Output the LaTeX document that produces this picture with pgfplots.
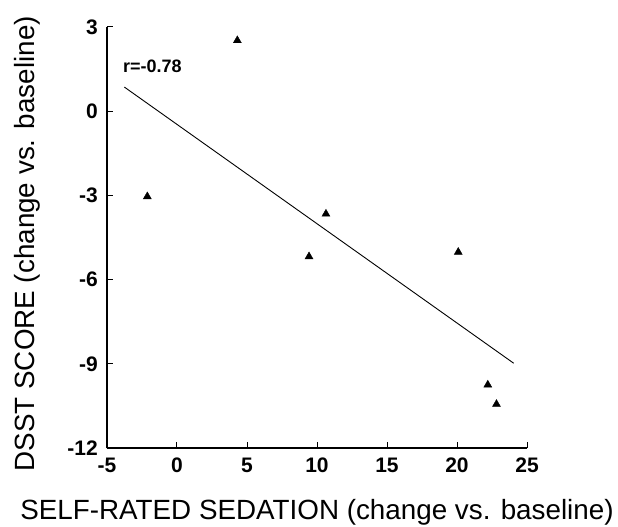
\documentclass[border=0pt]{standalone}
\usepackage{pgfplots}
\pgfplotsset{compat=1.18}
\usepackage{fontspec}
\setmainfont{Liberation Sans}
\begin{document}
\begin{tikzpicture}
\begin{axis}[
  scale only axis=true,
  width=420pt, height=421pt,
  xmin=-5, xmax=25, ymin=-12, ymax=3,
  axis x line=bottom, axis y line=left,
  axis line style={-, line width=1.2pt},
  xtick={-5,0,5,10,15,20,25},
  ytick={-12,-9,-6,-3,0,3},
  tick align=inside,
  major tick length=6pt,
  tick style={line width=1pt, black},
  /pgf/number format/assume math mode=true,
  ticklabel style={font=\fontsize{21}{21}\selectfont\bfseries},
  xticklabel style={anchor=north, inner sep=0pt, yshift=-10pt},
  yticklabel style={anchor=east, inner sep=0pt, xshift=-9pt},
  xlabel={SELF-RATED SEDATION (change vs. baseline)},
  ylabel={DSST SCORE (change vs. baseline)},
  label style={font=\fontsize{27.8}{27.8}\selectfont},
  xlabel style={at={(axis description cs:0.5,-0.169)}, anchor=base},
  ylabel style={at={(axis description cs:-0.19,0.485)}, anchor=center, rotate=0},
  clip=false,
]
\addplot[only marks, mark=triangle*, mark size=4.6pt, black] coordinates {
  (-2.12,-3.04) (4.31,2.52) (9.43,-5.18) (10.64,-3.66) (20.09,-5.02) (22.2,-9.75) (22.82,-10.44)
};
\addplot[black, line width=0.9pt] coordinates {(-3.76,0.86) (24.05,-8.98)};
\node[anchor=base west, inner sep=0pt, font=\fontsize{18}{18}\selectfont\bfseries] at (axis cs:-3.86,1.37) {r=-0.78};
\end{axis}
\pgfresetboundingbox
\path[use as bounding box] (-107pt,-79pt) rectangle (511pt,448pt);
\end{tikzpicture}
\end{document}
